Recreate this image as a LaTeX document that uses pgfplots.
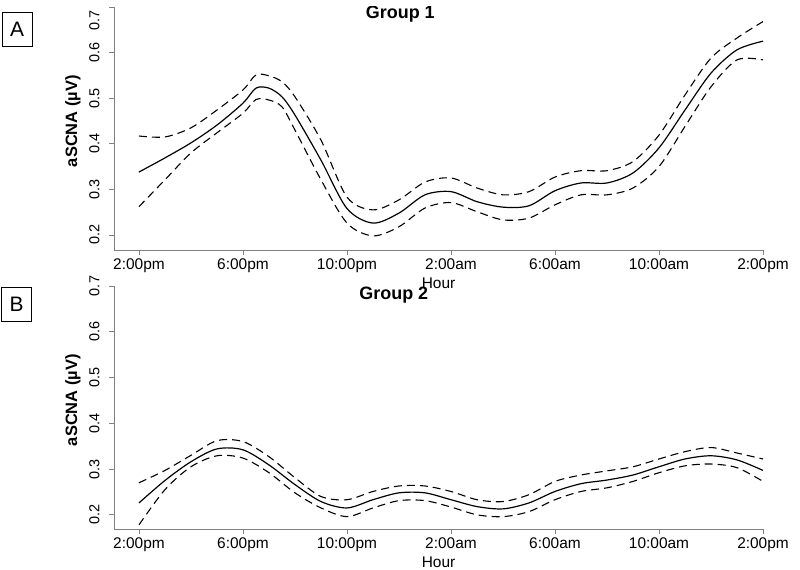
\documentclass[border=0pt]{standalone}
\usepackage{fontspec}
\setmainfont{Liberation Sans}
\usepackage{pgfplots}
\pgfplotsset{compat=1.18}

% group 1: fitted curve and confidence band
\pgfplotstableread{
h fit lo hi
0 0.338 0.262 0.417
1 0.369 0.321 0.415
2 0.402 0.380 0.435
3 0.441 0.424 0.474
4 0.489 0.467 0.518
4.5 0.522 0.497 0.551
5 0.522 0.496 0.549
5.5 0.503 0.481 0.536
6 0.463 0.430 0.503
7 0.364 0.321 0.408
8 0.258 0.226 0.283
9 0.226 0.198 0.255
10 0.248 0.218 0.277
11 0.288 0.259 0.316
12 0.295 0.271 0.325
13 0.273 0.251 0.303
14 0.261 0.233 0.288
15 0.264 0.237 0.295
16 0.297 0.266 0.327
17 0.314 0.288 0.341
18 0.314 0.288 0.341
19 0.336 0.303 0.361
20 0.391 0.350 0.419
21 0.474 0.438 0.507
22 0.555 0.525 0.588
23 0.606 0.584 0.632
24 0.625 0.584 0.668
}\groupA

% group 2
\pgfplotstableread{
h fit lo hi
0 0.226 0.178 0.270
1 0.275 0.255 0.297
2 0.316 0.305 0.330
3 0.344 0.329 0.362
4 0.342 0.324 0.360
5 0.309 0.292 0.327
6 0.266 0.248 0.281
7 0.229 0.215 0.240
8 0.215 0.196 0.233
9 0.233 0.215 0.251
10 0.248 0.231 0.263
11 0.248 0.231 0.263
12 0.233 0.217 0.251
13 0.218 0.200 0.233
14 0.213 0.196 0.229
15 0.226 0.207 0.244
16 0.251 0.233 0.273
17 0.268 0.251 0.287
18 0.276 0.259 0.296
19 0.287 0.273 0.305
20 0.305 0.292 0.322
21 0.322 0.307 0.338
22 0.329 0.311 0.347
23 0.320 0.303 0.335
24 0.297 0.273 0.322
}\groupB

\pgfplotsset{
  rpanel/.style={
    scale only axis,
    width=649bp, height=243bp,
    anchor=south west,
    xmin=-0.96, xmax=24,
    ymax=0.7,
    axis lines*=left,
    axis line style={gray, line width=0.8pt},
    tick style={gray, line width=0.8pt},
    tick align=outside,
    major tick length=5bp,
    xtick={0,4,8,12,16,20,24},
    xticklabels={2:00pm,6:00pm,10:00pm,2:00am,6:00am,10:00am,2:00pm},
    xticklabel style={font=\fontsize{15.5}{17}\selectfont},
    yticklabel style={font=\fontsize{14.5}{16}\selectfont, rotate=90, anchor=south, yshift=6bp},
    xlabel={Hour},
    xlabel style={font=\fontsize{15.5}{17}\selectfont, yshift=1bp},
    ylabel={aSCNA (µV)},
    ylabel style={font=\bfseries\fontsize{16.5}{18}\selectfont,
                  at={(rel axis cs:0,0.53)}, anchor=center, yshift=41bp},
    fitline/.style={black, line width=1.2pt, smooth},
    ciline/.style={black, line width=1.1pt, smooth, dash pattern=on 8bp off 5bp},
  }
}

\begin{document}
\begin{tikzpicture}
\useasboundingbox (0,0) rectangle (800bp,570bp);

\begin{axis}[rpanel, at={(114bp,320bp)}, ymin=0.167,
    ytick={0.2,0.3,0.4,0.5,0.6},
    yticklabels={0.2,0.3,0.4,0.5,0.6},
    extra y ticks={0.7},
    extra y tick labels={0.7},
    extra y tick style={yticklabel style={anchor=south east}}]
  \addplot[ciline] table[x=h, y=hi] {\groupA};
  \addplot[ciline] table[x=h, y=lo] {\groupA};
  \addplot[fitline] table[x=h, y=fit] {\groupA};
  \node[font=\bfseries\fontsize{18}{20}\selectfont] at (axis cs:10.05,0.685) {Group 1};
\end{axis}

\begin{axis}[rpanel, at={(114bp,41bp)}, ymin=0.169,
    ytick={0.2,0.3,0.4,0.5,0.6,0.7},
    yticklabels={0.2,0.3,0.4,0.5,0.6,0.7}]
  \addplot[ciline] table[x=h, y=hi] {\groupB};
  \addplot[ciline] table[x=h, y=lo] {\groupB};
  \addplot[fitline] table[x=h, y=fit] {\groupB};
  \node[font=\bfseries\fontsize{18}{20}\selectfont] at (axis cs:9.8,0.681) {Group 2};
\end{axis}

\node[draw, line width=0.8pt, minimum width=30bp, minimum height=34bp, inner sep=0pt,
      font=\fontsize{21}{23}\selectfont] at (17bp,541bp) {A};
\node[draw, line width=0.8pt, minimum width=30bp, minimum height=34bp, inner sep=0pt,
      font=\fontsize{21}{23}\selectfont] at (16.5bp,265.5bp) {B};
\end{tikzpicture}
\end{document}
